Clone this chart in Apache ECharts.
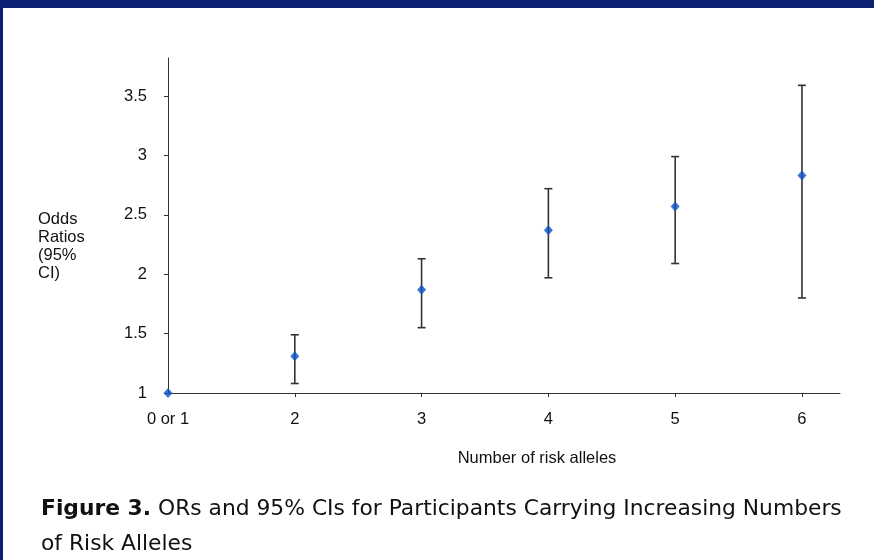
<!DOCTYPE html>
<html>
<head>
<meta charset="utf-8">
<script src="https://cdn.jsdelivr.net/npm/echarts@6/dist/echarts.min.js"></script>
<style>
html,body{margin:0;padding:0;background:#fff;}
#wrap{position:relative;width:874px;height:560px;overflow:hidden;background:#fff;}
#chart{position:absolute;left:0;top:0;width:874px;height:560px;}
.band{position:absolute;background:#0c2074;}
</style>
</head>
<body>
<div id="wrap">
<div id="chart"></div>
<div class="band" style="left:0;top:0;width:874px;height:8px;"></div>
<div class="band" style="left:0;top:0;width:3px;height:560px;"></div>
</div>
<script>
// Data
var categories = ['0 or 1', '2', '3', '4', '5', '6'];
var oddsRatios = [1.00, 1.31, 1.87, 2.37, 2.57, 2.83];
var ciLow = [null, 1.08, 1.55, 1.97, 2.09, 1.80];
var ciHigh = [null, 1.49, 2.13, 2.72, 2.99, 3.59];
var yTicks = [1, 1.5, 2, 2.5, 3, 3.5];
var yAxisTitle = 'Odds\nRatios\n(95%\nCI)';
var xAxisTitle = 'Number of risk alleles';
var captionBold = 'Figure 3.';
var captionRest = ' ORs and 95% CIs for Participants Carrying Increasing Numbers\nof Risk Alleles';

var xIdx = categories.map(function (c, i) { return i; });
var pointData = oddsRatios.map(function (v, i) { return [i, v]; });
var ciData = [];
for (var i = 0; i < categories.length; i++) {
  if (ciLow[i] != null) ciData.push([i, ciLow[i], ciHigh[i]]);
}

var axisFont = 'Liberation Sans, Arial, sans-serif';
var capFont = 'DejaVu Sans, sans-serif';
var chart = echarts.init(document.getElementById('chart'), null, {renderer: 'canvas'});
chart.setOption({
  animation: false,
  backgroundColor: '#ffffff',
  grid: {left: 168, right: 34, top: 58, bottom: 167},
  xAxis: {
    type: 'value', min: 0, max: 5.3,
    splitLine: {show: false},
    axisLine: {show: true, onZero: false, lineStyle: {color: '#333', width: 1}},
    axisTick: {show: true, length: 4, customValues: xIdx.slice(1), lineStyle: {color: '#333'}},
    axisLabel: {
      customValues: xIdx, margin: 18, color: '#111', fontSize: 16.5, fontFamily: axisFont,
      formatter: function (v) { return categories[Math.round(v)]; }
    }
  },
  yAxis: {
    type: 'value', min: 1, max: 3.82,
    splitLine: {show: false},
    axisLine: {show: true, lineStyle: {color: '#333', width: 1}},
    axisTick: {show: true, length: 4, customValues: yTicks, lineStyle: {color: '#333'}},
    axisLabel: {customValues: yTicks, margin: 21, color: '#111', fontSize: 16.5, fontFamily: axisFont}
  },
  graphic: [
    {type: 'text', left: 38, top: 210, z: 10, style: {text: yAxisTitle, fontSize: 16.5, lineHeight: 18, fontFamily: axisFont, fill: '#111'}},
    {type: 'text', x: 537, y: 458, z: 10, style: {text: xAxisTitle, fontSize: 16.5, fontFamily: axisFont, fill: '#111', align: 'center', verticalAlign: 'middle'}},
    {type: 'text', left: 41, top: 492, z: 10, style: {
      text: '{b|' + captionBold + '}' + captionRest,
      fontSize: 21.8, lineHeight: 35, fontFamily: capFont, fill: '#111',
      rich: {b: {fontWeight: 'bold', fontSize: 21.8, fontFamily: capFont, fill: '#111'}}
    }}
  ],
  series: [
    {
      type: 'custom',
      data: ciData,
      z: 2,
      renderItem: function (params, api) {
        var x = api.value(0);
        var lo = api.coord([x, api.value(1)]);
        var hi = api.coord([x, api.value(2)]);
        var cap = 4;
        var st = {stroke: '#333', lineWidth: 1.6};
        return {
          type: 'group',
          children: [
            {type: 'line', shape: {x1: lo[0], y1: lo[1], x2: hi[0], y2: hi[1]}, style: st},
            {type: 'line', shape: {x1: lo[0] - cap, y1: lo[1], x2: lo[0] + cap, y2: lo[1]}, style: st},
            {type: 'line', shape: {x1: hi[0] - cap, y1: hi[1], x2: hi[0] + cap, y2: hi[1]}, style: st}
          ]
        };
      }
    },
    {
      type: 'scatter',
      data: pointData,
      z: 5,
      symbol: 'diamond',
      symbolSize: [9, 10],
      itemStyle: {color: '#0a52c6'}
    }
  ]
});
</script>
</body>
</html>
